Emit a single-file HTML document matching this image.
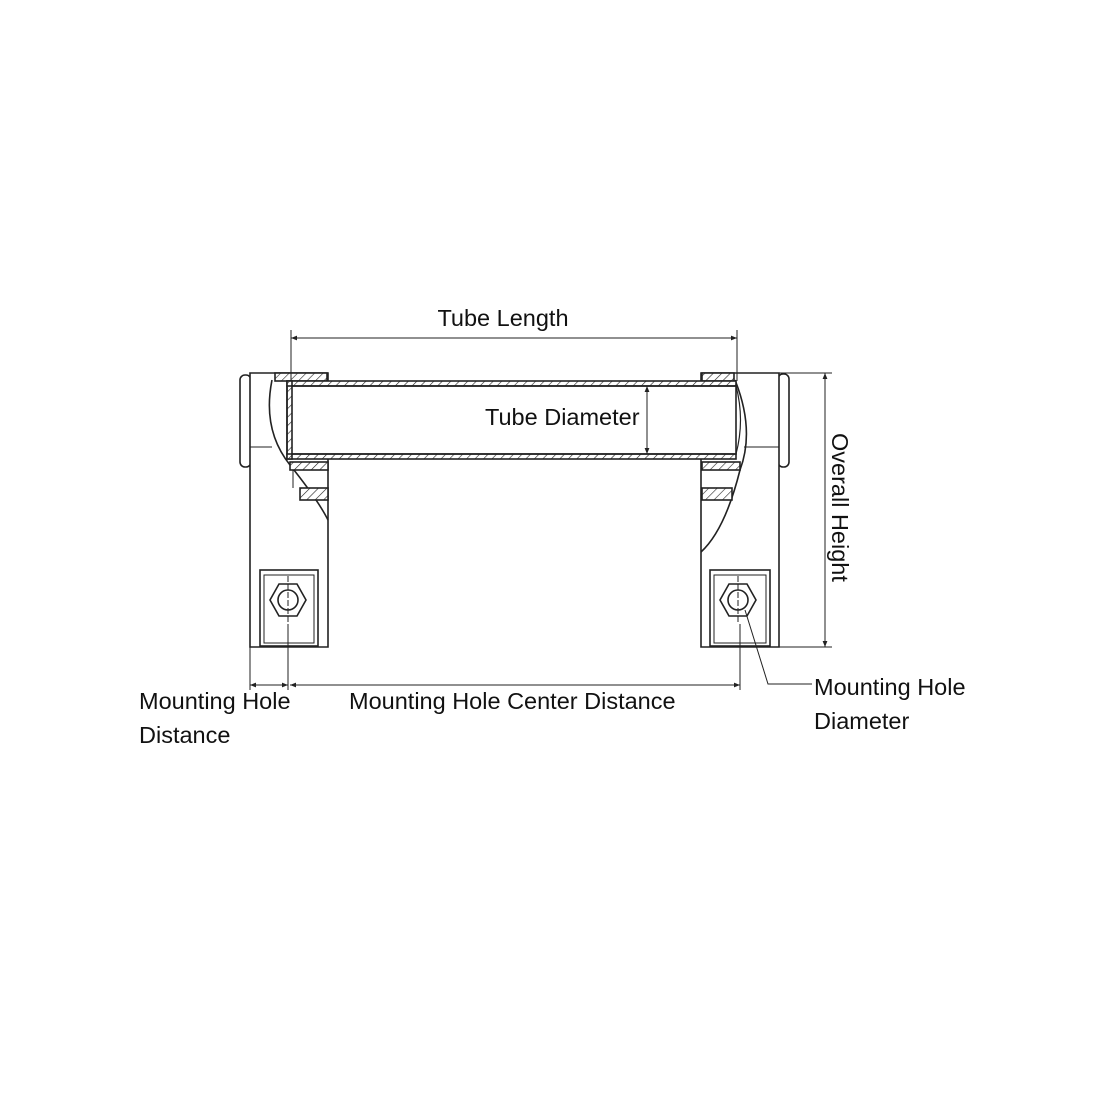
<!DOCTYPE html>
<html><head><meta charset="utf-8"><style>
html,body{margin:0;padding:0;background:#fff}
svg{display:block}
text{font-family:"Liberation Sans",sans-serif;font-size:23.5px;fill:#111}
</style></head><body>
<svg width="1100" height="1100" viewBox="0 0 1100 1100" xmlns="http://www.w3.org/2000/svg">
<defs>
<pattern id="h" width="6" height="6" patternUnits="userSpaceOnUse" patternTransform="rotate(45)">
<rect width="6" height="6" fill="#fff"/><line x1="0" y1="0" x2="0" y2="6" stroke="#222" stroke-width="1.2"/></pattern>
<marker id="a" viewBox="0 0 10 10" refX="10" refY="5" markerWidth="9" markerHeight="6" orient="auto-start-reverse"><path d="M0,1 L10,5 L0,9 z" fill="#222"/></marker>
</defs>
<g fill="none" stroke="#222" stroke-width="1.6">
<!-- left bracket -->
<rect x="240" y="375" width="11" height="92" rx="5" fill="#fff"/>
<path d="M250,373 H328 V647 H250 Z" fill="#fff"/>
<line x1="250" y1="447" x2="272" y2="447" stroke-width="1"/>
<path d="M272,380 Q262,430 290,465 Q318,500 328,520" />
<rect x="275" y="373" width="52" height="8" fill="url(#h)"/>
<rect x="290" y="462" width="38" height="8" fill="url(#h)"/>
<rect x="300" y="488" width="28" height="12" fill="url(#h)"/>
<line x1="293" y1="470" x2="293" y2="488" stroke-width="1"/>
<rect x="260" y="570" width="58" height="76"/>
<rect x="264" y="575" width="50" height="68" stroke-width="1"/>
<polygon points="270,600 279,584 297,584 306,600 297,616 279,616"/>
<circle cx="288" cy="600" r="10"/>
<!-- right bracket -->
<rect x="778" y="374" width="11" height="93" rx="5" fill="#fff"/>
<path d="M701,373 H779 V647 H701 Z" fill="#fff"/>
<line x1="744" y1="447" x2="779" y2="447" stroke-width="1"/>
<path d="M735,380 Q755,430 740,470 Q725,530 701,552"/>
<rect x="702" y="373" width="32" height="8" fill="url(#h)"/>
<rect x="702" y="462" width="38" height="8" fill="url(#h)"/>
<rect x="702" y="488" width="30" height="12" fill="url(#h)"/>
<rect x="710" y="570" width="60" height="76"/>
<rect x="714" y="575" width="52" height="68" stroke-width="1"/>
<polygon points="720,600 729,584 747,584 756,600 747,616 729,616"/>
<circle cx="738" cy="600" r="10"/>
<!-- tube -->
<rect x="287" y="381" width="449" height="78" fill="#fff" stroke="none"/>
<rect x="287" y="381" width="449" height="5" fill="url(#h)"/>
<rect x="287" y="454" width="449" height="5" fill="url(#h)"/>
<rect x="287" y="381" width="5" height="78" fill="url(#h)"/>
<path d="M736,386 Q745,420 736,454" stroke-width="1.2"/>
<rect x="287" y="386" width="449" height="68" fill="none"/>
</g>
<g stroke="#222" stroke-width="1" fill="none">
<line x1="288" y1="576" x2="288" y2="624" stroke-dasharray="6,2"/>
<line x1="738" y1="576" x2="738" y2="624" stroke-dasharray="6,2"/>
<line x1="291" y1="330" x2="291" y2="381"/>
<line x1="737" y1="330" x2="737" y2="381"/>
<line x1="291" y1="338" x2="737" y2="338" marker-start="url(#a)" marker-end="url(#a)"/>
<line x1="647" y1="386" x2="647" y2="454" marker-start="url(#a)" marker-end="url(#a)"/>
<line x1="779" y1="373" x2="832" y2="373"/>
<line x1="779" y1="647" x2="832" y2="647"/>
<line x1="825" y1="373" x2="825" y2="647" marker-start="url(#a)" marker-end="url(#a)"/>
<line x1="250" y1="647" x2="250" y2="690"/>
<line x1="288" y1="624" x2="288" y2="690"/>
<line x1="740" y1="624" x2="740" y2="690"/>
<line x1="250" y1="685" x2="288" y2="685" marker-start="url(#a)" marker-end="url(#a)"/>
<line x1="290" y1="685" x2="740" y2="685" marker-start="url(#a)" marker-end="url(#a)"/>
<polyline points="745,610 768,684 812,684"/>
</g>
<text x="503" y="326" text-anchor="middle">Tube Length</text>
<text x="485" y="425">Tube Diameter</text>
<text transform="translate(832,433) rotate(90)">Overall Height</text>
<text x="139" y="709">Mounting Hole</text>
<text x="139" y="743">Distance</text>
<text x="349" y="709">Mounting Hole Center Distance</text>
<text x="814" y="695">Mounting Hole</text>
<text x="814" y="729">Diameter</text>
</svg>
</body></html>
